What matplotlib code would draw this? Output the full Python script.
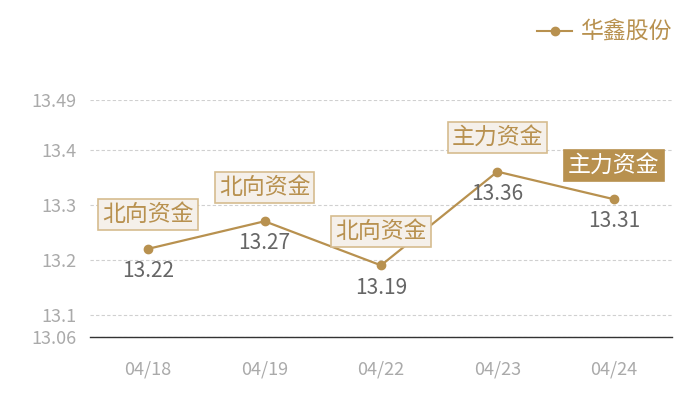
import numpy as np
import matplotlib
matplotlib.use("Agg")
import matplotlib.pyplot as plt
from matplotlib.lines import Line2D

# Les donnees
dates = ["04/18", "04/19", "04/22", "04/23", "04/24"]
prices = [13.22, 13.27, 13.19, 13.36, 13.31]
tags = ["北向资金", "北向资金", "北向资金", "主力资金", "主力资金"]
highlight = [False, False, False, False, True]
yticks = [13.06, 13.1, 13.2, 13.3, 13.4, 13.49]
ytick_labels = ["13.06", "13.1", "13.2", "13.3", "13.4", "13.49"]
series_name = "华鑫股份"

gold = "#b8914f"

plt.rcParams['font.family'] = ['Noto Sans CJK SC', 'DejaVu Sans']

fig = plt.figure(figsize=(7, 4), dpi=100)
ax = fig.add_axes([90/700, 1-337/400, (672-90)/700, (337-100)/400])

x = np.arange(len(dates))
ax.plot(x, prices, color=gold, lw=1.6, marker='o', ms=6, zorder=3)

for i in range(len(x)):
    ax.annotate(f"{prices[i]:.2f}", (x[i], prices[i]), xytext=(0, -16),
                textcoords="offset points", ha="center", va="center",
                fontsize=15, color="#666666", zorder=4)
    if highlight[i]:
        fc, ec, tc = gold, gold, "white"
    else:
        fc, ec, tc = "#f5f0ea", "#d6bc8f", gold
    ax.annotate(tags[i], (x[i], prices[i]), xytext=(0, 24.5),
                textcoords="offset points", ha="center", va="center",
                fontsize=16.5, color=tc, zorder=5,
                bbox=dict(boxstyle="square,pad=0.18", fc=fc, ec=ec, lw=1.2))

ax.set_xlim(-0.5, len(dates) - 0.5)
ax.set_ylim(13.06, 13.49)
ax.set_xticks(x)
ax.set_xticklabels(dates)
ax.set_yticks(yticks)
ax.set_yticklabels(ytick_labels)
ax.tick_params(axis='both', length=0, labelsize=13, colors="#aaaaaa")
ax.tick_params(axis='x', pad=17)
ax.tick_params(axis='y', pad=10)

for s in ["top", "right", "left"]:
    ax.spines[s].set_visible(False)
ax.spines["bottom"].set_color("#333333")
ax.spines["bottom"].set_linewidth(1)

ax.yaxis.grid(True, ls=(0, (3, 2)), color="#d0d0d0", lw=0.8)
ax.set_axisbelow(True)

handle = Line2D([], [], color=gold, lw=1.5, marker='o', ms=6)
leg = fig.legend([handle], [series_name], loc="upper right", bbox_to_anchor=(0.99, 1.0),
                 frameon=False, fontsize=16.5, handlelength=1.5, handletextpad=0.4)
for t in leg.get_texts():
    t.set_color(gold)

fig.savefig("out.png", dpi=100)
